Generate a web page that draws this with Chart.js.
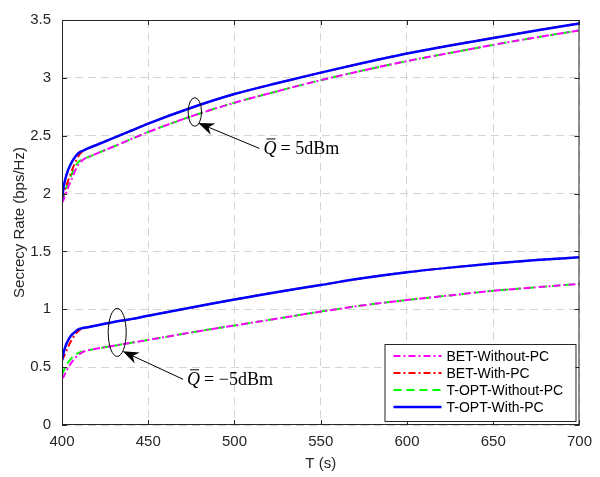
<!DOCTYPE html>
<html>
<head>
<meta charset="utf-8">
<script src="https://cdn.jsdelivr.net/npm/chart.js@4.4.1/dist/chart.umd.min.js"></script>
<style>
  html, body { margin: 0; padding: 0; background: #fff; }
  #wrap { width: 600px; height: 477px; }
</style>
</head>
<body>
<div id="wrap"><canvas id="chart"></canvas></div>
<script>
// time samples (s)
var T = [400, 401, 402, 403, 404, 406, 408, 410, 412, 415, 420, 430, 440, 450, 475, 500, 525, 550, 575, 600, 625, 650, 675, 700];

// Q = 5dBm
var betNoPcHigh  = [1.92, 1.95, 1.99, 2.03, 2.07, 2.14, 2.21, 2.26, 2.29, 2.315, 2.345, 2.407, 2.47, 2.532, 2.668, 2.785, 2.885, 2.98, 3.065, 3.145, 3.215, 3.285, 3.35, 3.41];
var betPcHigh    = [1.95, 2.00, 2.05, 2.09, 2.13, 2.21, 2.28, 2.335, 2.365, 2.39, 2.42, 2.481, 2.543, 2.605, 2.742, 2.86, 2.955, 3.045, 3.13, 3.21, 3.28, 3.345, 3.41, 3.47];
var optNoPcHigh  = [1.93, 1.98, 2.03, 2.07, 2.11, 2.18, 2.24, 2.28, 2.295, 2.315, 2.345, 2.407, 2.47, 2.532, 2.668, 2.785, 2.885, 2.98, 3.065, 3.145, 3.215, 3.285, 3.35, 3.41];
var optPcHigh    = [1.95, 2.06, 2.13, 2.18, 2.22, 2.28, 2.325, 2.355, 2.37, 2.39, 2.42, 2.481, 2.543, 2.605, 2.742, 2.86, 2.955, 3.045, 3.13, 3.21, 3.28, 3.345, 3.41, 3.47];

// Q = -5dBm
var betNoPcLow   = [0.40, 0.42, 0.45, 0.48, 0.505, 0.55, 0.585, 0.61, 0.63, 0.645, 0.66, 0.685, 0.71, 0.735, 0.80, 0.86, 0.92, 0.98, 1.035, 1.08, 1.12, 1.16, 1.19, 1.22];
var betPcLow     = [0.56, 0.59, 0.62, 0.655, 0.69, 0.745, 0.79, 0.82, 0.835, 0.845, 0.86, 0.89, 0.915, 0.945, 1.015, 1.085, 1.15, 1.21, 1.27, 1.32, 1.36, 1.395, 1.425, 1.45];
var optNoPcLow   = [0.43, 0.47, 0.50, 0.53, 0.55, 0.585, 0.61, 0.625, 0.635, 0.645, 0.66, 0.685, 0.71, 0.735, 0.80, 0.86, 0.92, 0.98, 1.035, 1.08, 1.12, 1.16, 1.19, 1.22];
var optPcLow     = [0.56, 0.63, 0.68, 0.715, 0.745, 0.785, 0.81, 0.83, 0.838, 0.845, 0.86, 0.89, 0.915, 0.945, 1.015, 1.085, 1.15, 1.21, 1.27, 1.32, 1.36, 1.395, 1.425, 1.45];

var legendNames = ["BET-Without-PC", "BET-With-PC", "T-OPT-Without-PC", "T-OPT-With-PC"];
var xTicks = [400, 450, 500, 550, 600, 650, 700];
var yTicks = [0, 0.5, 1, 1.5, 2, 2.5, 3, 3.5];

function pts(vals) {
    return T.map(function(t, i) { return {x: t, y: vals[i]}; });
}

var styles = [
    {color: "#ff00ff", dash: [7, 3, 2, 3], width: 2, order: 2},
    {color: "#ff0000", dash: [7, 3, 2, 3], width: 2, order: 3},
    {color: "#00ff00", dash: [8, 5], width: 2, order: 4},
    {color: "#0000ff", dash: [], width: 2.5, order: 1}
];
var groups = [
    [betNoPcHigh, betPcHigh, optNoPcHigh, optPcHigh],
    [betNoPcLow, betPcLow, optNoPcLow, optPcLow]
];

var datasets = [];
groups.forEach(function(g, gi) {
    g.forEach(function(vals, k) {
        var s = styles[k];
        datasets.push({
            label: legendNames[k],
            data: pts(vals),
            borderColor: s.color,
            backgroundColor: s.color,
            borderWidth: s.width,
            borderDash: s.dash,
            pointRadius: 0,
            fill: false,
            cubicInterpolationMode: "monotone",
            order: s.order,
            legendIndex: gi === 0 ? k : -1
        });
    });
});

var txtColor = "#262626";
var sans = "'Liberation Sans', Arial, sans-serif";

// box, inner ticks, legend and the two annotations
var decor = {
    id: "decor",
    afterDraw: function(chart) {
        var ctx = chart.ctx, a = chart.chartArea;
        var xs = chart.scales.x, ys = chart.scales.y;
        ctx.save();
        ctx.strokeStyle = "#262626";
        ctx.lineWidth = 1;
        ctx.setLineDash([]);
        ctx.strokeRect(a.left + 0.5, a.top + 0.5, a.right - a.left - 1, a.bottom - a.top - 1);
        ctx.beginPath();
        xTicks.forEach(function(v) {
            var px = Math.round(xs.getPixelForValue(v)) + 0.5;
            ctx.moveTo(px, a.bottom); ctx.lineTo(px, a.bottom - 5);
            ctx.moveTo(px, a.top); ctx.lineTo(px, a.top + 5);
        });
        yTicks.forEach(function(v) {
            var py = Math.round(ys.getPixelForValue(v)) + 0.5;
            ctx.moveTo(a.left, py); ctx.lineTo(a.left + 5, py);
            ctx.moveTo(a.right, py); ctx.lineTo(a.right - 5, py);
        });
        ctx.stroke();

        // legend
        var lw = 191, lh = 77;
        var lx = a.right - 4 - lw, ly = a.bottom - 4 - lh;
        ctx.fillStyle = "#fff";
        ctx.fillRect(lx, ly, lw, lh);
        ctx.strokeStyle = "#262626";
        ctx.strokeRect(lx + 0.5, ly + 0.5, lw, lh);
        ctx.font = "14px " + sans;
        ctx.textBaseline = "middle";
        chart.data.datasets.forEach(function(ds) {
            if (ds.legendIndex < 0) return;
            var yy = ly + 12 + ds.legendIndex * 17;
            ctx.strokeStyle = ds.borderColor;
            ctx.lineWidth = ds.borderWidth;
            ctx.setLineDash(ds.borderDash);
            ctx.beginPath();
            ctx.moveTo(lx + 9, yy); ctx.lineTo(lx + 57, yy);
            ctx.stroke();
            ctx.setLineDash([]);
            ctx.fillStyle = "#000";
            ctx.fillText(ds.label, lx + 62, yy + 1);
        });

        // annotations
        function note(cx, cy, rx, ry, hx, hy, tx, ty, txt) {
            var ex = xs.getPixelForValue(cx), ey = ys.getPixelForValue(cy);
            ctx.strokeStyle = "#000";
            ctx.lineWidth = 1;
            ctx.beginPath();
            ctx.ellipse(ex, ey, rx, ry, 0, 0, Math.PI * 2);
            ctx.stroke();
            var x1 = xs.getPixelForValue(tx), y1 = ys.getPixelForValue(ty);
            var x0 = xs.getPixelForValue(hx), y0 = ys.getPixelForValue(hy);
            var ang = Math.atan2(y0 - y1, x0 - x1);
            ctx.beginPath();
            ctx.moveTo(x1, y1); ctx.lineTo(x0 - 10 * Math.cos(ang), y0 - 10 * Math.sin(ang));
            ctx.stroke();
            ctx.fillStyle = "#000";
            ctx.beginPath();
            ctx.moveTo(x0, y0);
            ctx.lineTo(x0 - 16 * Math.cos(ang) + 6 * Math.sin(ang), y0 - 16 * Math.sin(ang) - 6 * Math.cos(ang));
            ctx.lineTo(x0 - 11 * Math.cos(ang), y0 - 11 * Math.sin(ang));
            ctx.lineTo(x0 - 16 * Math.cos(ang) - 6 * Math.sin(ang), y0 - 16 * Math.sin(ang) + 6 * Math.cos(ang));
            ctx.closePath();
            ctx.fill();
            var px = x1 + 4, py = y1 + 1;
            ctx.textBaseline = "middle";
            ctx.font = "italic 18px 'Liberation Serif', 'DejaVu Serif', serif";
            ctx.fillText("Q", px, py);
            var qw = ctx.measureText("Q").width;
            ctx.beginPath();
            ctx.moveTo(px + 3, py - 10.5); ctx.lineTo(px + qw - 1, py - 10.5);
            ctx.stroke();
            ctx.font = "18px 'Liberation Serif', 'DejaVu Serif', serif";
            ctx.fillText(txt, px + qw + 4, py);
        }
        note(477, 2.705, 6.7, 14.3, 479, 2.61, 514.5, 2.39, "= 5dBm");
        note(432, 0.80, 9, 24, 435.2, 0.637, 470.2, 0.395, "= \u22125dBm");
        ctx.restore();
    }
};

new Chart(document.getElementById("chart"), {
    type: "line",
    data: {datasets: datasets},
    options: {
        responsive: true,
        maintainAspectRatio: false,
        animation: false,
        layout: {padding: {top: 15, right: 18, left: 0, bottom: 0}},
        plugins: {legend: {display: false}, tooltip: {enabled: false}},
        scales: {
            x: {
                type: "linear",
                min: 400, max: 700,
                afterFit: function(s) { s.height = 52; },
                afterBuildTicks: function(s) { s.ticks = xTicks.map(function(v) { return {value: v}; }); },
                border: {display: false, dash: [8, 5]},
                grid: {color: "#d4d4d4", lineWidth: 1, drawTicks: false, tickLength: 0},
                ticks: {color: txtColor, font: {size: 15, family: sans}, padding: 8, maxRotation: 0,
                        callback: function(v) { return String(v); }},
                title: {display: true, text: "T (s)", color: txtColor, font: {size: 15, family: sans}, padding: {top: 0, bottom: 4}}
            },
            y: {
                min: 0, max: 3.5,
                afterFit: function(s) { s.width = 62; },
                afterBuildTicks: function(s) { s.ticks = yTicks.map(function(v) { return {value: v}; }); },
                border: {display: false, dash: [8, 5]},
                grid: {color: "#d4d4d4", lineWidth: 1, drawTicks: false, tickLength: 0},
                ticks: {color: txtColor, font: {size: 15, family: sans}, padding: 11,
                        callback: function(v) { return String(v); }},
                title: {display: true, text: "Secrecy Rate (bps/Hz)", color: txtColor, font: {size: 15, family: sans}, padding: {top: 11, bottom: 0}}
            }
        }
    },
    plugins: [decor]
});
</script>
</body>
</html>
